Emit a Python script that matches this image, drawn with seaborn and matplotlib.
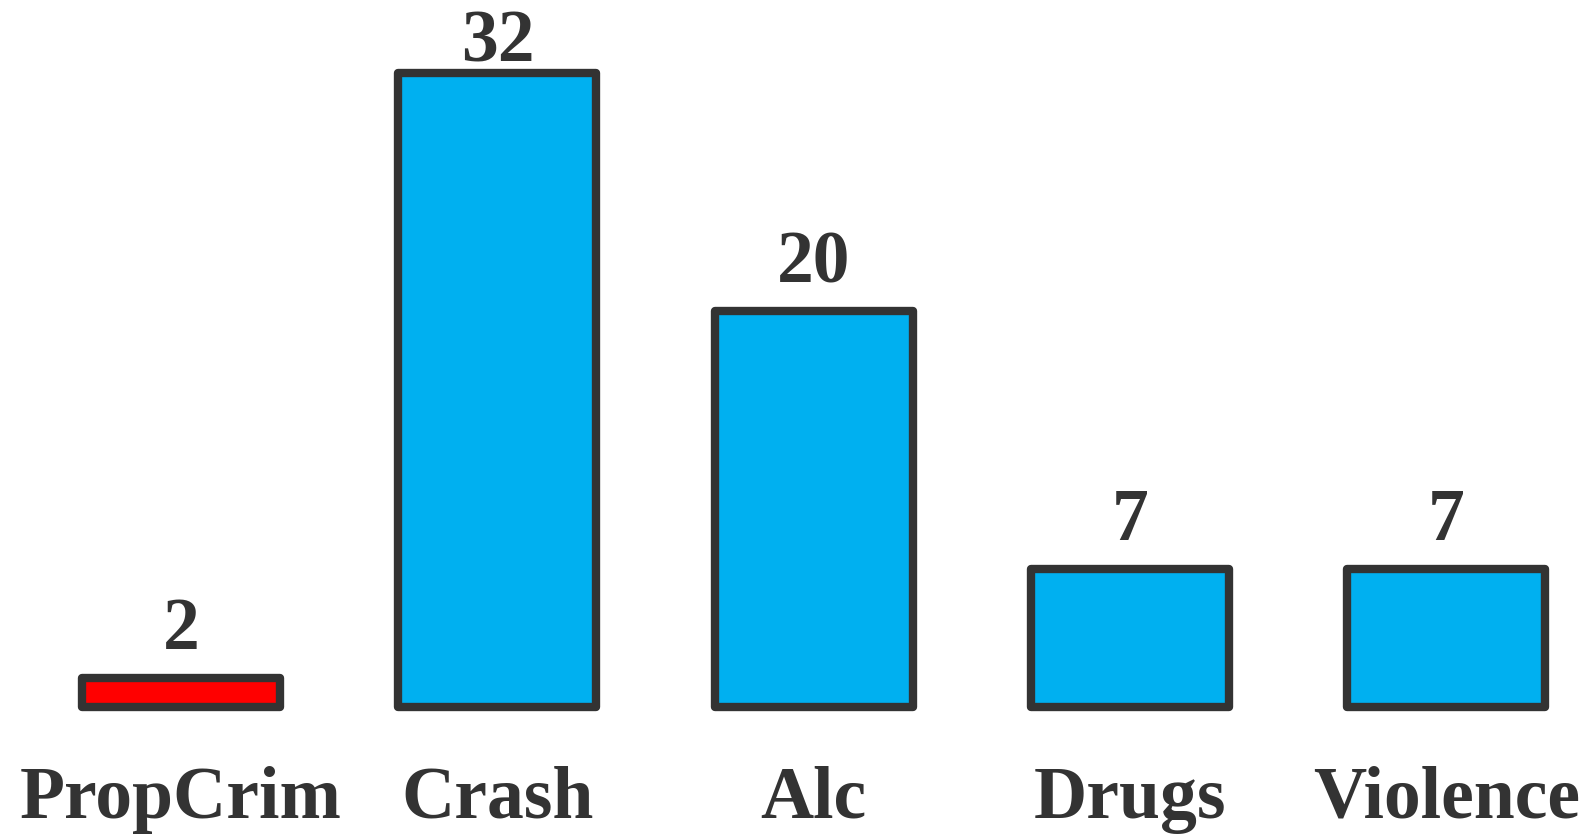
import matplotlib
matplotlib.use("Agg")
import matplotlib.pyplot as plt
import seaborn as sns
import pandas as pd

categories = ["PropCrim", "Crash", "Alc", "Drugs", "Violence"]
values = [1.5, 32, 20, 7, 7]
value_labels = ["2", "32", "20", "7", "7"]
bar_colors = ["#FF0000", "#00B0F0", "#00B0F0", "#00B0F0", "#00B0F0"]

sns.set_theme(style="white")
plt.rcParams["font.family"] = ["Liberation Serif", "DejaVu Serif"]

df = pd.DataFrame({"cat": categories, "val": values})

fig = plt.figure(figsize=(15.92, 8.35), dpi=100)
ax = fig.add_axes([0, 0, 1, 1])
sns.barplot(data=df, x="cat", y="val", hue="cat", palette=bar_colors,
            width=0.626, edgecolor="#333333", linewidth=6.0, legend=False,
            saturation=1, ax=ax)
for p in ax.patches:
    p.set_joinstyle("round")

ax.set_xlim(-0.572, 4.460)
ax.set_ylim(-6.43, 35.66)
ax.axis("off")

txt_color = "#333333"
for i, (v, lab) in enumerate(zip(values, value_labels)):
    y = min(v + 1.44, 32.54)
    ax.text(i, y, lab, ha="center", va="baseline", fontsize=53,
            fontweight="bold", color=txt_color)
    ax.text(i, -5.57, categories[i], ha="center", va="baseline", fontsize=53,
            fontweight="bold", color=txt_color)

fig.savefig("out.png", dpi=100)
